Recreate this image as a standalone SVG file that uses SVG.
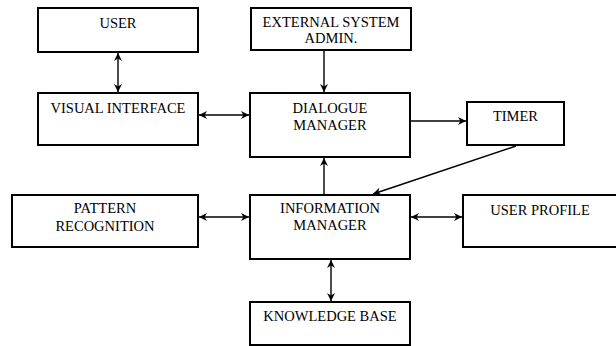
<svg xmlns="http://www.w3.org/2000/svg" width="616" height="346" viewBox="0 0 616 346">
<style>
.box{fill:#fff;stroke:#000;stroke-width:2}
text{font-family:'Liberation Serif','DejaVu Serif',serif;font-size:14.5px;fill:#000;text-anchor:middle}
.c{stroke:#000;stroke-width:1.4;fill:none;marker-end:url(#ah)}
.b{marker-start:url(#ahs)}
</style>
<defs>
<marker id="ah" viewBox="0 0 10 10" refX="10" refY="5" markerWidth="8" markerHeight="8" markerUnits="userSpaceOnUse" orient="auto">
<path d="M0,0 L10,5 L0,10 L3,5 z" fill="#000"/>
</marker>
<marker id="ahs" viewBox="0 0 10 10" refX="0" refY="5" markerWidth="8" markerHeight="8" markerUnits="userSpaceOnUse" orient="auto">
<path d="M10,0 L0,5 L10,10 L7,5 z" fill="#000"/>
</marker>
</defs>
<rect width="616" height="346" fill="#fff"/>
<g id="connectors">
<line class="c b" x1="118" y1="53" x2="118" y2="92"/>
<line class="c b" x1="199" y1="115" x2="249" y2="115"/>
<line class="c" x1="324" y1="51" x2="324" y2="92"/>
<line class="c" x1="411" y1="121" x2="466" y2="121"/>
<line class="c" x1="324" y1="194" x2="324" y2="158"/>
<line class="c" x1="516" y1="146" x2="373" y2="194"/>
<line class="c b" x1="199" y1="217" x2="249" y2="217"/>
<line class="c b" x1="411" y1="217" x2="462" y2="217"/>
<line class="c b" x1="331" y1="260" x2="331" y2="301"/>
</g>
<g id="user"><rect class="box" x="38" y="8" width="160" height="44"/><text x="118" y="28">USER</text></g>
<g id="external"><rect class="box" x="251" y="8" width="160" height="42"/><text x="331" y="27">EXTERNAL SYSTEM</text><text x="331" y="43">ADMIN.</text></g>
<g id="visual"><rect class="box" x="38" y="93" width="160" height="52"/><text x="118" y="113">VISUAL INTERFACE</text></g>
<g id="dialogue"><rect class="box" x="250" y="93" width="160" height="64"/><text x="330" y="113">DIALOGUE</text><text x="330" y="130">MANAGER</text></g>
<g id="timer"><rect class="box" x="467" y="102" width="97" height="43"/><text x="515.5" y="121">TIMER</text></g>
<g id="pattern"><rect class="box" x="12" y="195" width="186" height="52"/><text x="105" y="213">PATTERN</text><text x="105" y="231">RECOGNITION</text></g>
<g id="information"><rect class="box" x="250" y="195" width="160" height="64"/><text x="330" y="213">INFORMATION</text><text x="330" y="230">MANAGER</text></g>
<g id="profile"><rect class="box" x="463" y="195" width="156" height="52"/><text x="540" y="215">USER PROFILE</text></g>
<g id="knowledge"><rect class="box" x="250" y="302" width="160" height="43"/><text x="330" y="321">KNOWLEDGE BASE</text></g>
</svg>
